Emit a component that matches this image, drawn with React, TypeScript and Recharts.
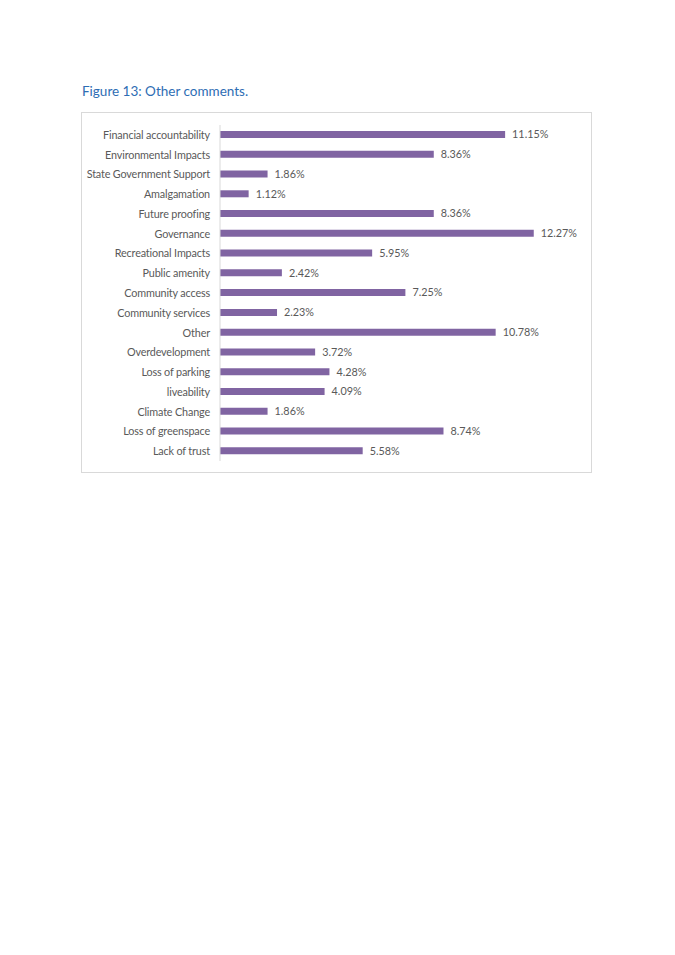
import React from 'react';
import { BarChart, Bar, XAxis, YAxis, LabelList } from 'recharts';

const categories = [
  'Financial accountability',
  'Environmental Impacts',
  'State Government Support',
  'Amalgamation',
  'Future proofing',
  'Governance',
  'Recreational Impacts',
  'Public amenity',
  'Community access',
  'Community services',
  'Other',
  'Overdevelopment',
  'Loss of parking',
  'liveability',
  'Climate Change',
  'Loss of greenspace',
  'Lack of trust',
];

const percentages = [
  11.15, 8.36, 1.86, 1.12, 8.36, 12.27, 5.95, 2.42, 7.25, 2.23, 10.78, 3.72, 4.28, 4.09, 1.86, 8.74, 5.58,
];

const data = categories.map((name, i) => ({ name, value: percentages[i] }));

const FONT = 'Lato, "Open Sans", sans-serif';

// tick propio para que no se parta en dos lineas
const CategoryTick = (props: any) => {
  const { x, y, payload } = props;
  return (
    <text x={x} y={y} dy={4} textAnchor="end" fill="#595959" fontSize={10.8} letterSpacing={-0.15} fontFamily={FONT}>
      {payload.value}
    </text>
  );
};

const App: React.FC = () => {
  return (
    <div style={{ position: 'absolute', left: 0, top: 0, width: 675, height: 955, background: '#fff', fontFamily: FONT }}>
      {/* titulo */}
      <div style={{ position: 'absolute', left: 82, top: 83, fontSize: 13.5, color: '#2e6db4' }}>
        Figure 13: Other comments.
      </div>

      {/* caja del grafico */}
      <div
        style={{
          position: 'absolute',
          left: 81,
          top: 112,
          width: 511,
          height: 361,
          border: '1px solid #d9d9d9',
          boxSizing: 'border-box',
        }}
      >
        <BarChart
          width={509}
          height={359}
          data={data}
          layout="vertical"
          margin={{ top: 12, right: 13, bottom: 11, left: 0 }}
          style={{ overflow: 'visible' }}
        >
          <XAxis type="number" domain={[0, 14]} hide />
          <YAxis
            type="category"
            dataKey="name"
            width={138}
            interval={0}
            tickLine={false}
            tickSize={0}
            tickMargin={10}
            axisLine={{ stroke: '#d9d9d9' }}
            tick={<CategoryTick />}
          />
          <Bar dataKey="value" fill="#8064a2" barSize={7} isAnimationActive={false}>
            <LabelList
              dataKey="value"
              position="right"
              offset={7}
              formatter={(v: any) => `${Number(v).toFixed(2)}%`}
              style={{ fill: '#595959', fontSize: 10.8, fontFamily: FONT }}
            />
          </Bar>
        </BarChart>
      </div>
    </div>
  );
};

export default App;
